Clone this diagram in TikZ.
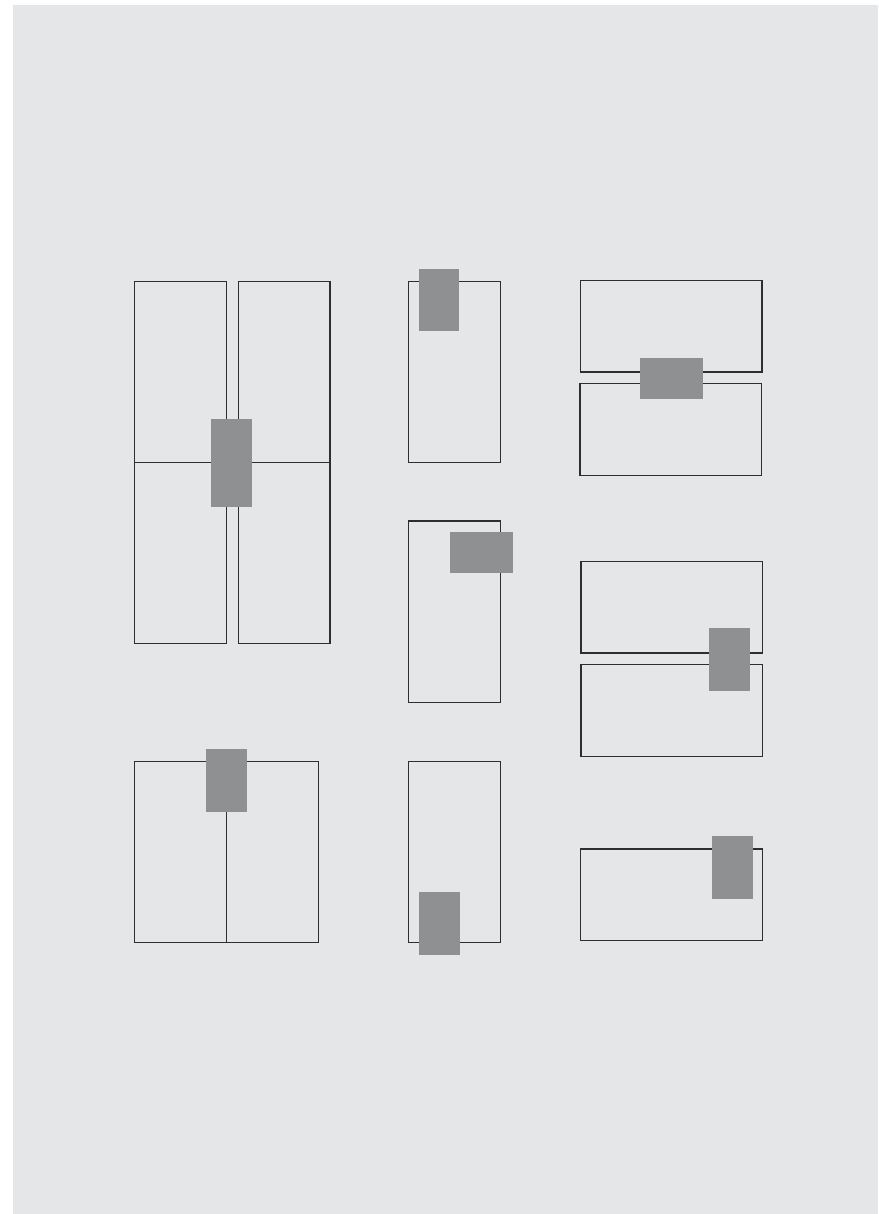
\documentclass[tikz,border=0pt]{standalone}
\definecolor{bg}{HTML}{E5E6E8}
\definecolor{blk}{HTML}{8F9091}
\definecolor{ln}{HTML}{2E2E30}
\begin{document}
\begin{tikzpicture}[x=1pt,y=-1pt,
  outline/.style={draw=ln,line width=1.1pt},
  block/.style={fill=blk}]
\useasboundingbox (0,0) rectangle (878,1214);
\fill[white] (0,0) rectangle (878,1214);
\fill[bg] (13,5) rectangle (878,1214);
% group 1: four panels
\draw[outline] (134.7,281.7) rectangle (226.7,643.3);
\draw[outline] (238.3,281.7) rectangle (330,643.3);
\draw[outline] (134.7,462.3) -- (330,462.3);
\fill[block] (211,419) rectangle (252.3,506.7);
% middle column top
\draw[outline] (408.3,281.7) rectangle (500.7,462.3);
\fill[block] (419,269) rectangle (459.3,330.7);
% middle column middle
\draw[outline] (408.3,521) rectangle (500.5,702.7);
\fill[block] (450,532) rectangle (513.3,572.7);
% right column top
\draw[outline] (580.3,280.3) rectangle (762,372);
\draw[outline] (580,383.7) rectangle (761.7,475.3);
\fill[block] (640,358) rectangle (703.3,398.7);
% right column middle
\draw[outline] (581,561.7) rectangle (762.7,653);
\draw[outline] (581,664.7) rectangle (762.7,756.3);
\fill[block] (709,628) rectangle (750.3,690.7);
% bottom left
\draw[outline] (134.7,761.7) rectangle (318.7,942.3);
\draw[outline] (226.7,761.7) -- (226.7,942.3);
\fill[block] (206,749) rectangle (247,811.7);
% bottom middle
\draw[outline] (408.3,761.3) rectangle (500.7,942.7);
\fill[block] (419,892) rectangle (460.3,954.7);
% bottom right
\draw[outline] (580.7,849) rectangle (762.7,940.7);
\fill[block] (712.3,836) rectangle (753.3,898.7);
\end{tikzpicture}
\end{document}
